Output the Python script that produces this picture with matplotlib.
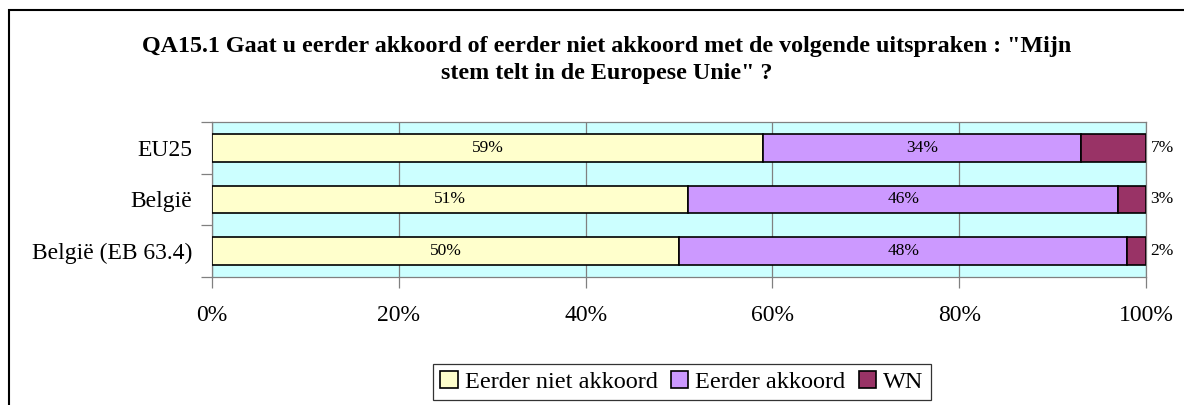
import matplotlib
matplotlib.use("Agg")
import matplotlib.pyplot as plt
from matplotlib.patches import Rectangle
import numpy as np

plt.rcParams['font.family'] = ['Liberation Serif', 'DejaVu Serif']

categories = ["EU25", "België", "België (EB 63.4)"]
series_names = ["Eerder niet akkoord", "Eerder akkoord", "WN"]
niet_akkoord = [59, 51, 50]
akkoord = [34, 46, 48]
wn = [7, 3, 2]
tick_labels = ["0%", "20%", "40%", "60%", "80%", "100%"]

colors = ["#FFFFCC", "#CC99FF", "#993366"]

W, H = 1184, 405
fig = plt.figure(figsize=(W / 100, H / 100), dpi=100)

# outer frame
fig.patches.append(Rectangle((9 / W, -0.1), 1.2, 1 - 10 / H + 0.1, transform=fig.transFigure,
                             fill=False, edgecolor="black", linewidth=1.5, zorder=0))

ax = fig.add_axes([212 / W, 1 - 277 / H, (1146 - 212) / W, (277 - 122) / H])
ax.set_facecolor("#CCFFFF")

y = np.arange(len(categories))[::-1]
data = [niet_akkoord, akkoord, wn]
left = np.zeros(len(categories))
for i, (vals, c, name) in enumerate(zip(data, colors, series_names)):
    vals = np.array(vals, dtype=float)
    ax.barh(y, vals, left=left, height=0.53, color=c, edgecolor="black",
            linewidth=1.2, label=name, zorder=3)
    for yy, l, v in zip(y, left, vals):
        if i < 2:
            ax.text(l + v / 2, yy, f"{int(v)}%", ha="center", va="center",
                    fontsize=12.5, zorder=4)
        else:
            ax.text(100.5, yy, f"{int(v)}%", ha="left", va="center",
                    fontsize=12.5, clip_on=False)
    left += vals

ax.set_xlim(0, 100)
ax.set_ylim(-0.5, 2.5)
ax.set_xticks(np.arange(0, 101, 20))
ax.set_xticklabels(tick_labels, fontsize=17)
ax.xaxis.grid(True, color="#808080", linewidth=0.9, zorder=1)
ax.set_axisbelow(True)

ax.set_yticks(y)
ax.set_yticklabels(categories, fontsize=17)
ax.set_yticks([-0.5, 0.5, 1.5, 2.5], minor=True)
ax.tick_params(axis="y", which="major", length=0, pad=14)
ax.tick_params(axis="y", which="minor", length=8, color="#808080", width=0.9)
ax.tick_params(axis="x", length=8, color="#808080", width=0.9, pad=12)

for s in ["top", "right", "left", "bottom"]:
    ax.spines[s].set_color("#808080")
    ax.spines[s].set_linewidth(0.9)

fig.text(607 / W, 1 - 60 / H,
         'QA15.1 Gaat u eerder akkoord of eerder niet akkoord met de volgende uitspraken : "Mijn\nstem telt in de Europese Unie" ?',
         ha="center", va="center", fontsize=17.3, fontweight="bold", linespacing=1.35)

leg = fig.legend(loc="center", bbox_to_anchor=(682 / W, 1 - 382 / H), ncol=3,
                 fontsize=17.5, frameon=True, fancybox=False, edgecolor="black",
                 handlelength=0.7, handleheight=0.7, handletextpad=0.3,
                 columnspacing=0.55, borderpad=0.3)
leg.get_frame().set_linewidth(0.9)

fig.savefig("out.png", dpi=100)
